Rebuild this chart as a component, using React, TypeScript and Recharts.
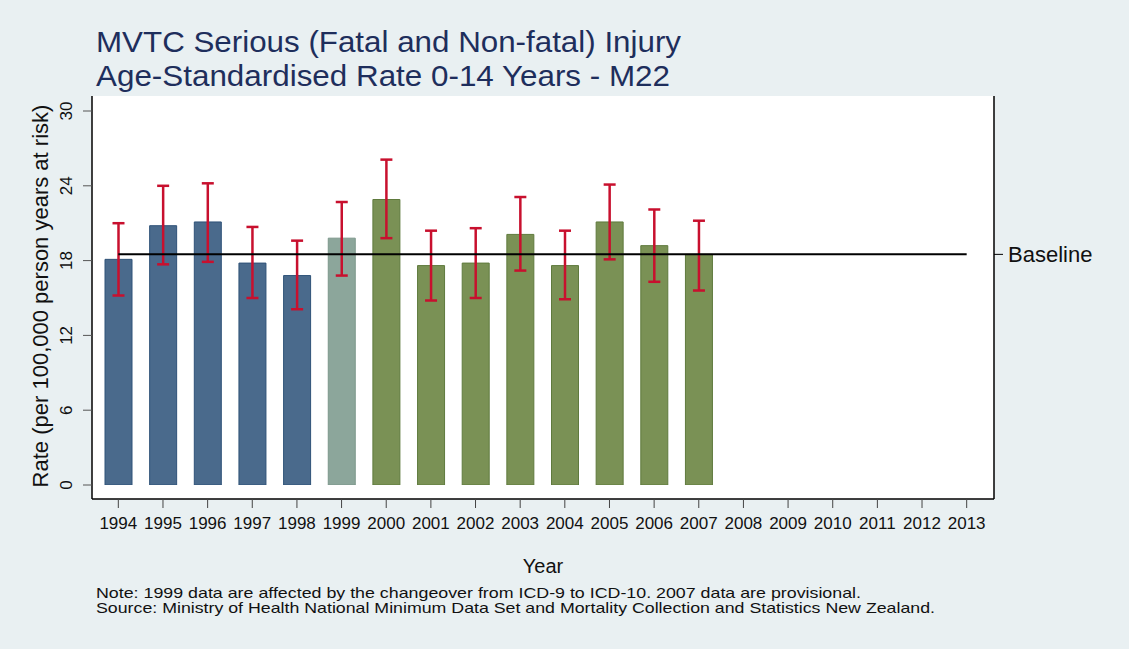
import { Bar, CartesianGrid, Cell, ComposedChart, ErrorBar, Line, XAxis, YAxis } from "recharts";

const FONT = '"Liberation Sans", Arial, Helvetica, sans-serif';

const years = [
  "1994", "1995", "1996", "1997", "1998", "1999", "2000", "2001", "2002", "2003",
  "2004", "2005", "2006", "2007", "2008", "2009", "2010", "2011", "2012", "2013",
];
// age-standardised rate per 100,000, 1994-2007 only
const rates = [18.1, 20.8, 21.1, 17.8, 16.8, 19.8, 22.9, 17.6, 17.8, 20.1, 17.6, 21.1, 19.2, 18.5];
const lowerCI = [15.2, 17.7, 17.9, 15.0, 14.1, 16.8, 19.8, 14.8, 15.0, 17.2, 14.9, 18.1, 16.3, 15.6];
const upperCI = [21.0, 24.0, 24.2, 20.7, 19.6, 22.7, 26.1, 20.4, 20.6, 23.1, 20.4, 24.1, 22.1, 21.2];
const codingPeriod = [
  "icd9", "icd9", "icd9", "icd9", "icd9", "change", "icd10",
  "icd10", "icd10", "icd10", "icd10", "icd10", "icd10", "icd10",
];
const baselineRate = 18.5;
const yTicks = [0, 6, 12, 18, 24, 30];
const gridValues = [6, 12, 18, 24, 30];

const periodColors: Record<string, { fill: string; stroke: string }> = {
  icd9: { fill: "#4a6a8c", stroke: "#2f5278" },
  change: { fill: "#8ca69b", stroke: "#7c978b" },
  icd10: { fill: "#7a9155", stroke: "#5f7a3d" },
};

const data = years.map((year, i) => ({
  year,
  rate: i < rates.length ? rates[i] : null,
  ci: i < rates.length ? [rates[i] - lowerCI[i], upperCI[i] - rates[i]] : [0, 0],
  baseline: baselineRate,
}));

function YTick({ x, y, payload }: any) {
  return (
    <text
      transform={`translate(${x - 9}, ${y}) rotate(-90)`}
      textAnchor="middle"
      fontSize={17}
      fontFamily={FONT}
      fill="#111"
    >
      {payload.value}
    </text>
  );
}

function XTick({ x, y, payload }: any) {
  return (
    <text x={x} y={y + 19} textAnchor="middle" fontSize={17} fontFamily={FONT} fill="#111">
      {payload.value}
    </text>
  );
}

function BaselineTick({ x, y }: any) {
  return (
    <text x={x} y={y + 8} textAnchor="start" fontSize={22} fontFamily={FONT} fill="#111">
      Baseline
    </text>
  );
}

export default function App() {
  return (
    <div
      style={{
        position: "absolute",
        left: 0,
        top: 0,
        width: 1129,
        height: 649,
        background: "#e9f0f2",
        fontFamily: FONT,
      }}
    >
      <ComposedChart
        width={1129}
        height={649}
        data={data}
        margin={{ top: 96, right: 0, bottom: 0, left: 0 }}
        barSize={27}
      >
        <CartesianGrid
          vertical={false}
          horizontalValues={gridValues}
          stroke="#d6e2e9"
          strokeWidth={2}
          fill="#ffffff"
          fillOpacity={1}
        />
        <XAxis
          dataKey="year"
          height={150}
          padding={{ left: 4, right: 5 }}
          tickSize={9}
          axisLine={{ stroke: "#000", strokeWidth: 1.5 }}
          tickLine={{ stroke: "#444" }}
          tick={<XTick />}
          interval={0}
        />
        <YAxis
          yAxisId="left"
          width={92}
          domain={[0, 30]}
          ticks={yTicks}
          padding={{ top: 15, bottom: 14 }}
          tickSize={9}
          axisLine={{ stroke: "#000", strokeWidth: 1.5 }}
          tickLine={{ stroke: "#555" }}
          tick={<YTick />}
          allowDataOverflow
        />
        <YAxis
          yAxisId="right"
          orientation="right"
          width={135}
          domain={[0, 30]}
          ticks={[baselineRate]}
          padding={{ top: 15, bottom: 14 }}
          tickSize={9}
          tickMargin={5}
          axisLine={{ stroke: "#000", strokeWidth: 1.5 }}
          tickLine={{ stroke: "#000" }}
          tick={<BaselineTick />}
          allowDataOverflow
        />
        <Bar yAxisId="left" dataKey="rate" isAnimationActive={false} strokeWidth={1}>
          {data.map((d, i) => {
            const c = periodColors[codingPeriod[i]] ?? periodColors.icd10;
            return <Cell key={d.year} fill={c.fill} stroke={c.stroke} />;
          })}
          <ErrorBar dataKey="ci" width={6} stroke="#c8102e" strokeWidth={2.5} isAnimationActive={false} />
        </Bar>
        <Line
          yAxisId="right"
          dataKey="baseline"
          type="linear"
          stroke="#000"
          strokeWidth={2}
          dot={false}
          activeDot={false}
          isAnimationActive={false}
        />
      </ComposedChart>
      <svg
        width={1129}
        height={649}
        style={{ position: "absolute", left: 0, top: 0, pointerEvents: "none" }}
        fontFamily={FONT}
      >
        <text x={96} y={52} fontSize={30} fill="#1e2e5c" textLength={585} lengthAdjust="spacingAndGlyphs">
          MVTC Serious (Fatal and Non-fatal) Injury
        </text>
        <text x={96} y={86} fontSize={30} fill="#1e2e5c" textLength={574} lengthAdjust="spacingAndGlyphs">
          Age-Standardised Rate 0-14 Years - M22
        </text>
        <text transform="translate(48, 296) rotate(-90)" textAnchor="middle" fontSize={22} fill="#111">
          Rate (per 100,000 person years at risk)
        </text>
        <text x={543} y={573} textAnchor="middle" fontSize={20} fill="#111">
          Year
        </text>
        <text x={96} y={598} fontSize={15} fill="#111" textLength={765} lengthAdjust="spacingAndGlyphs">
          Note: 1999 data are affected by the changeover from ICD-9 to ICD-10. 2007 data are provisional.
        </text>
        <text x={96} y={613} fontSize={15} fill="#111" textLength={839} lengthAdjust="spacingAndGlyphs">
          Source: Ministry of Health National Minimum Data Set and Mortality Collection and Statistics New Zealand.
        </text>
      </svg>
    </div>
  );
}
